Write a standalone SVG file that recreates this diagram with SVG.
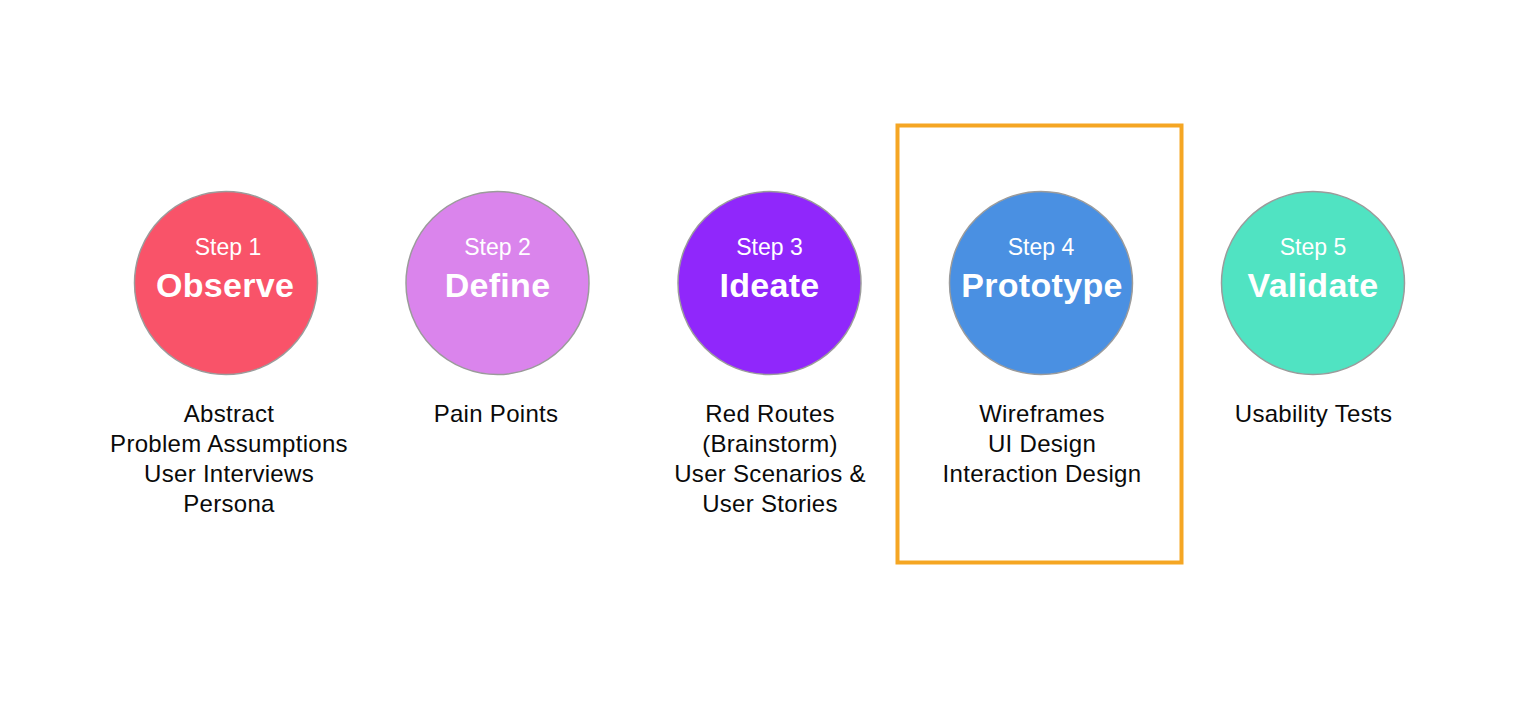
<svg xmlns="http://www.w3.org/2000/svg" width="1526" height="704" viewBox="0 0 1526 704">
  <style>
    .bubble { stroke: #9b9b9b; stroke-width: 1.5; }
    .step { font-family: "Liberation Sans", Arial, sans-serif; font-size: 23px; fill: #ffffff; text-anchor: middle; }
    .title { font-family: "Liberation Sans", Arial, sans-serif; font-size: 34px; font-weight: bold; fill: #ffffff; text-anchor: middle; letter-spacing: 0.3px; }
    .desc { font-family: "Liberation Sans", Arial, sans-serif; font-size: 24px; fill: #0a0a0a; text-anchor: middle; letter-spacing: 0.3px; }
  </style>
  <rect width="1526" height="704" fill="#ffffff"/>

  <!-- highlight frame around the prototype stage -->
  <rect id="highlight" x="897.5" y="125.5" width="284" height="437" fill="none" stroke="#f5a623" stroke-width="4"/>

  <g id="connectors"></g>

  <g id="step1">
    <circle class="bubble" cx="226" cy="283" r="91.5" fill="#f95369"/>
    <text class="step" x="228" y="255">Step 1</text>
    <text class="title" x="225" y="297">Observe</text>
    <text class="desc" x="229" y="422">Abstract</text>
    <text class="desc" x="229" y="452">Problem Assumptions</text>
    <text class="desc" x="229" y="482">User Interviews</text>
    <text class="desc" x="229" y="512">Persona</text>
  </g>

  <g id="step2">
    <circle class="bubble" cx="497.5" cy="283" r="91.5" fill="#da84ec"/>
    <text class="step" x="497.5" y="255">Step 2</text>
    <text class="title" x="497.5" y="297">Define</text>
    <text class="desc" x="496" y="422">Pain Points</text>
  </g>

  <g id="step3">
    <circle class="bubble" cx="769.5" cy="283" r="91.5" fill="#9027fb"/>
    <text class="step" x="769.5" y="255">Step 3</text>
    <text class="title" x="769.5" y="297">Ideate</text>
    <text class="desc" x="770" y="422">Red Routes</text>
    <text class="desc" x="770" y="452">(Brainstorm)</text>
    <text class="desc" x="770" y="482">User Scenarios &amp;</text>
    <text class="desc" x="770" y="512">User Stories</text>
  </g>

  <g id="step4">
    <circle class="bubble" cx="1041" cy="283" r="91.5" fill="#4a90e2"/>
    <text class="step" x="1041" y="255">Step 4</text>
    <text class="title" x="1042" y="297">Prototype</text>
    <text class="desc" x="1042" y="422">Wireframes</text>
    <text class="desc" x="1042" y="452">UI Design</text>
    <text class="desc" x="1042" y="482">Interaction Design</text>
  </g>

  <g id="step5">
    <circle class="bubble" cx="1313" cy="283" r="91.5" fill="#50e3c2"/>
    <text class="step" x="1313" y="255">Step 5</text>
    <text class="title" x="1313" y="297">Validate</text>
    <text class="desc" x="1313.5" y="422">Usability Tests</text>
  </g>
</svg>
